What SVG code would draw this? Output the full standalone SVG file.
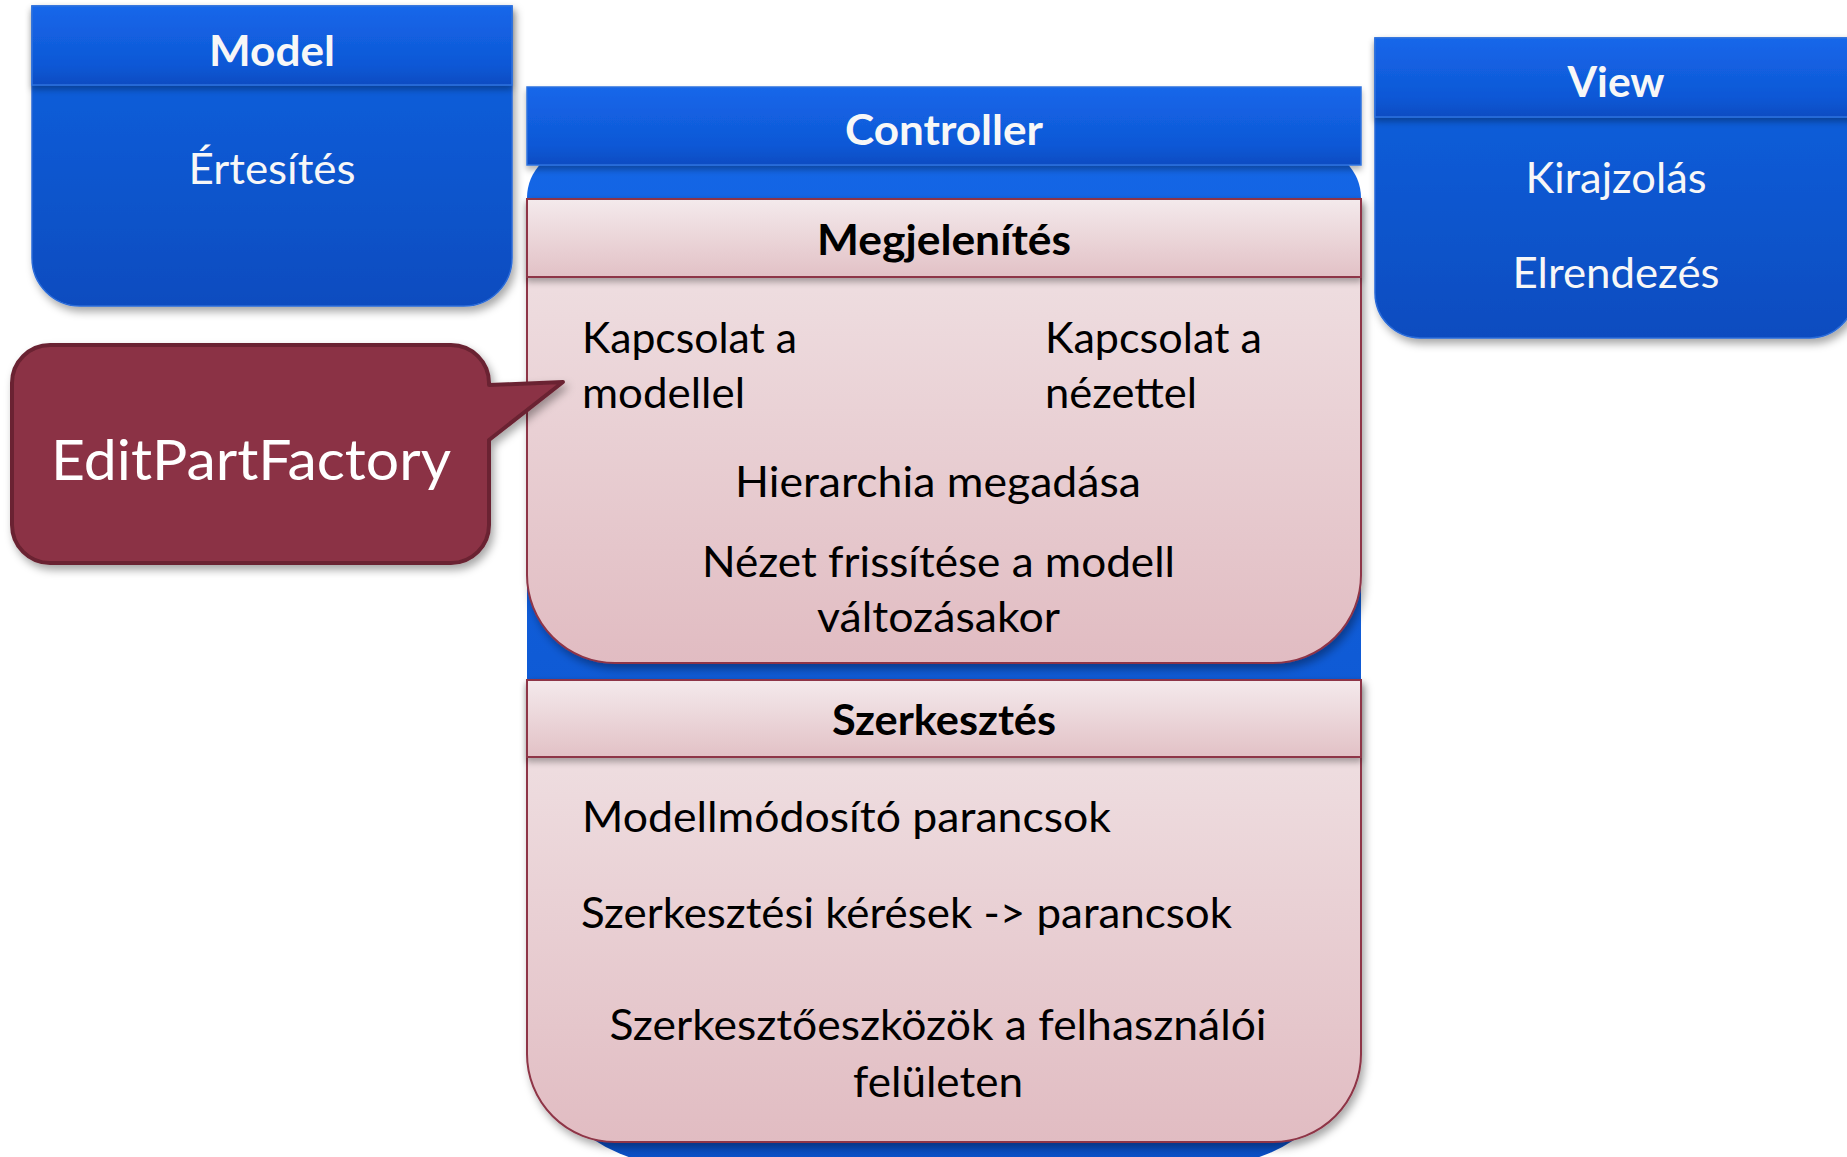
<svg xmlns="http://www.w3.org/2000/svg" width="1847" height="1157" viewBox="0 0 1847 1157">
  <style>
    text { font-family: Lato, "Open Sans", "Liberation Sans", sans-serif; }
    .title { font-size: 42px; font-weight: bold; fill: #f7f7f7; text-anchor: middle; }
    .item-w { font-size: 42px; fill: #f7f7f7; text-anchor: middle; }
    .sec { font-size: 42px; font-weight: bold; fill: #000; text-anchor: middle; }
    .item { font-size: 42px; fill: #000; }
    .mid { text-anchor: middle; }
    .call { font-size: 57px; fill: #ffffff; text-anchor: middle; }
    .pink-frame { stroke: #8e3446; stroke-width: 2; }
  </style>
  <defs>
    <linearGradient id="blueHead" x1="0" y1="0" x2="0" y2="1">
      <stop offset="0" stop-color="#1567ea"/>
      <stop offset="0.75" stop-color="#0f58d6"/>
      <stop offset="1" stop-color="#0a4cc2"/>
    </linearGradient>
    <linearGradient id="blueBody" x1="0" y1="0" x2="0" y2="1">
      <stop offset="0" stop-color="#1463e2"/>
      <stop offset="1" stop-color="#084cbf"/>
    </linearGradient>
    <linearGradient id="ctrlBody" x1="0" y1="0" x2="0" y2="1">
      <stop offset="0" stop-color="#1466e6"/>
      <stop offset="1" stop-color="#0a50c6"/>
    </linearGradient>
    <linearGradient id="pinkHead" x1="0" y1="0" x2="0" y2="1">
      <stop offset="0" stop-color="#f4eaec"/>
      <stop offset="1" stop-color="#e2c1c6"/>
    </linearGradient>
    <linearGradient id="pinkBody" x1="0" y1="0" x2="0" y2="1">
      <stop offset="0" stop-color="#f1e4e6"/>
      <stop offset="1" stop-color="#e1bcc2"/>
    </linearGradient>
    <filter id="shadow" x="-10%" y="-10%" width="125%" height="130%">
      <feDropShadow dx="3" dy="5" stdDeviation="4" flood-color="#000" flood-opacity="0.35"/>
    </filter>
    <filter id="shadowSoft" x="-10%" y="-20%" width="125%" height="160%">
      <feDropShadow dx="0" dy="4" stdDeviation="3" flood-color="#000" flood-opacity="0.3"/>
    </filter>
  </defs>

  <!-- Model -->
  <g id="model">
    <path d="M32,6 H512 V258 A48,48 0 0 1 464,306 H80 A48,48 0 0 1 32,258 Z" fill="url(#blueBody)" stroke="#2a6ad8" stroke-width="1.5" filter="url(#shadow)"/>
    <rect x="32" y="6" width="480" height="79" fill="url(#blueHead)" stroke="#2f72de" stroke-width="1.5" filter="url(#shadowSoft)"/>
    <text class="title" x="272" y="66" textLength="126" lengthAdjust="spacingAndGlyphs">Model</text>
    <text class="item-w" x="272" y="184" textLength="167" lengthAdjust="spacingAndGlyphs">Értesítés</text>
  </g>

  <!-- View -->
  <g id="view">
    <path d="M1375,38 H1855 V293 A45,45 0 0 1 1810,338 H1420 A45,45 0 0 1 1375,293 Z" fill="url(#blueBody)" stroke="#2a6ad8" stroke-width="1.5" filter="url(#shadow)"/>
    <rect x="1375" y="38" width="480" height="79" fill="url(#blueHead)" stroke="#2f72de" stroke-width="1.5" filter="url(#shadowSoft)"/>
    <text class="title" x="1616" y="97" textLength="97" lengthAdjust="spacingAndGlyphs">View</text>
    <text class="item-w" x="1616" y="193" textLength="181" lengthAdjust="spacingAndGlyphs">Kirajzolás</text>
    <text class="item-w" x="1616" y="288" textLength="207" lengthAdjust="spacingAndGlyphs">Elrendezés</text>
  </g>

  <!-- Controller: blue container with its header -->
  <g id="controller">
    <path d="M527,198 A50,50 0 0 1 577,148 H1311 A50,50 0 0 1 1361,198 V1015 A150,150 0 0 1 1211,1165 H677 A150,150 0 0 1 527,1015 Z" fill="url(#ctrlBody)"/>
    <rect x="527" y="87" width="834" height="78" fill="url(#blueHead)" stroke="#2f72de" stroke-width="1.5" filter="url(#shadowSoft)"/>
    <text class="title" x="944" y="145" textLength="198" lengthAdjust="spacingAndGlyphs">Controller</text>
  </g>

  <!-- Megjelenítés section -->
  <g id="megjelenites">
    <path class="pink-frame" d="M527,199 H1361 V575 A88,88 0 0 1 1273,663 H615 A88,88 0 0 1 527,575 Z" fill="url(#pinkBody)" filter="url(#shadow)"/>
    <rect class="pink-frame" x="527" y="199" width="834" height="78" fill="url(#pinkHead)" filter="url(#shadowSoft)"/>
    <text class="sec" x="944" y="255" textLength="254" lengthAdjust="spacingAndGlyphs">Megjelenítés</text>
    <text class="item" x="582" y="353" textLength="215" lengthAdjust="spacingAndGlyphs">Kapcsolat a</text>
    <text class="item" x="582" y="408" textLength="163" lengthAdjust="spacingAndGlyphs">modellel</text>
    <text class="item" x="1045" y="353" textLength="217" lengthAdjust="spacingAndGlyphs">Kapcsolat a</text>
    <text class="item" x="1045" y="408" textLength="152" lengthAdjust="spacingAndGlyphs">nézettel</text>
    <text class="item mid" x="938" y="497" textLength="406" lengthAdjust="spacingAndGlyphs">Hierarchia megadása</text>
    <text class="item mid" x="938.5" y="577" textLength="473" lengthAdjust="spacingAndGlyphs">Nézet frissítése a modell</text>
    <text class="item mid" x="938.5" y="632" textLength="243" lengthAdjust="spacingAndGlyphs">változásakor</text>
  </g>

  <!-- Szerkesztés section -->
  <g id="szerkesztes">
    <path class="pink-frame" d="M527,680 H1361 V1054 A88,88 0 0 1 1273,1142 H615 A88,88 0 0 1 527,1054 Z" fill="url(#pinkBody)" filter="url(#shadow)"/>
    <rect class="pink-frame" x="527" y="680" width="834" height="77" fill="url(#pinkHead)" filter="url(#shadowSoft)"/>
    <text class="sec" x="944" y="735" textLength="224" lengthAdjust="spacingAndGlyphs">Szerkesztés</text>
    <text class="item" x="582" y="832" textLength="529" lengthAdjust="spacingAndGlyphs">Modellmódosító parancsok</text>
    <text class="item" x="581" y="928" textLength="651" lengthAdjust="spacingAndGlyphs">Szerkesztési kérések -&gt; parancsok</text>
    <text class="item mid" x="938" y="1040" textLength="657" lengthAdjust="spacingAndGlyphs">Szerkesztőeszközök a felhasználói</text>
    <text class="item mid" x="938" y="1097" textLength="170" lengthAdjust="spacingAndGlyphs">felületen</text>
  </g>

  <!-- EditPartFactory callout pointing at the Megjelenítés section -->
  <g id="editpartfactory">
    <path d="M50,345 H451 A38,38 0 0 1 489,383 V385 L563,382 L489,440 V525 A38,38 0 0 1 451,563 H50 A38,38 0 0 1 12,525 V383 A38,38 0 0 1 50,345 Z" fill="#8b3344" stroke="#6a2332" stroke-width="4" stroke-linejoin="round" filter="url(#shadow)"/>
    <text class="call" x="251" y="480" textLength="400" lengthAdjust="spacingAndGlyphs">EditPartFactory</text>
  </g>

  <g id="connectors"/>
</svg>
